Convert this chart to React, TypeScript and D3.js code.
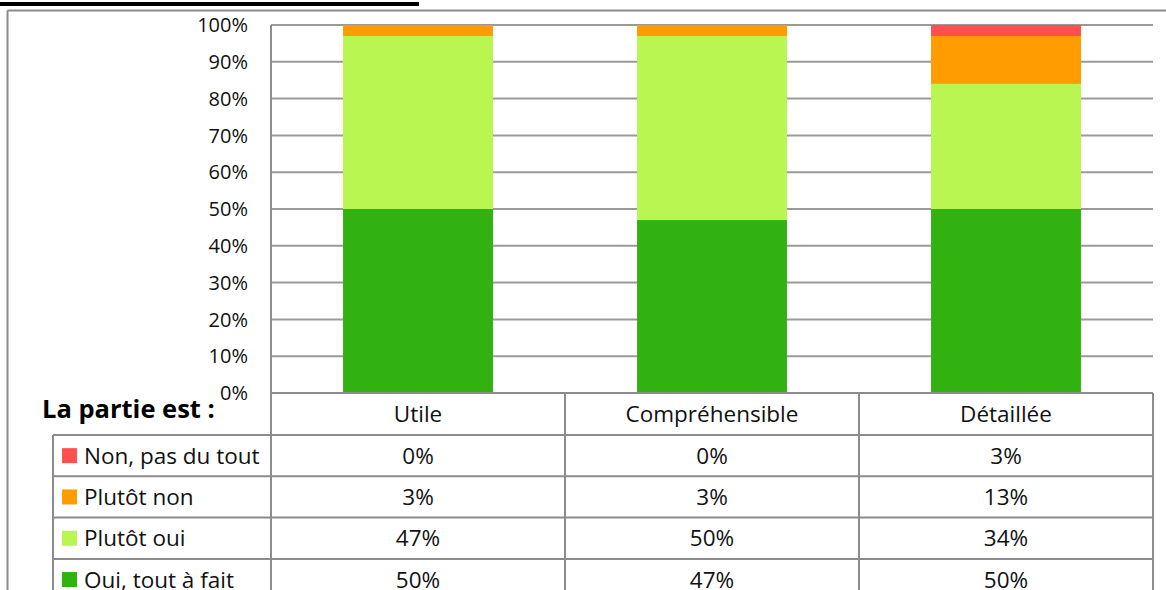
import React from "react";
import * as d3 from "d3";

const categories = ["Utile", "Compréhensible", "Détaillée"];
const seriesNames = ["Non, pas du tout", "Plutôt non", "Plutôt oui", "Oui, tout à fait"];
const seriesColors = ["#FF5050", "#FF9C00", "#BAF652", "#32B211"];
const nonPasDuTout = [0, 0, 3];
const plutotNon = [3, 3, 13];
const plutotOui = [47, 50, 34];
const ouiToutAFait = [50, 47, 50];
const yTicks = [0, 10, 20, 30, 40, 50, 60, 70, 80, 90, 100];
const tableTitle = "La partie est :";

const seriesValues = [nonPasDuTout, plutotNon, plutotOui, ouiToutAFait];

const W = 1166;
const H = 590;
const plotL = 271;
const plotR = 1153;
const plotT = 25;
const plotB = 393;
const headerH = 42;
const rowH = 41.3;
const legendL = 53;
const FONT = "'Open Sans', 'Noto Sans', sans-serif";
const GRID = "#9a9a9a";
const BORDER = "#8c8c8c";

export default function App() {
  const x = d3.scaleBand<string>().domain(categories).range([plotL, plotR]).paddingInner(0.49).paddingOuter(0.245);
  const y = d3.scaleLinear().domain([0, 100]).range([plotB, plotT]);

  const rows = categories.map((c, i) => {
    const r: any = { cat: c };
    seriesNames.forEach((s, j) => (r[s] = seriesValues[j][i]));
    return r;
  });
  // stack bottom-up: Oui, Plutôt oui, Plutôt non, Non
  const stackKeys = [...seriesNames].reverse();
  const stacked = d3.stack<any>().keys(stackKeys)(rows);

  const step = x.step();
  const colEdges = categories.map((c) => (x(c) as number) + x.bandwidth() / 2 - step / 2);
  const tableRowTops = seriesNames.map((_, i) => plotB + headerH + i * rowH);
  const tableBottom = plotB + headerH + seriesNames.length * rowH;

  return (
    <svg width={W} height={H} style={{ position: "absolute", left: 0, top: 0, background: "#fff" }} fontFamily={FONT}>
      <rect x={0} y={0} width={W} height={H} fill="#fff" />
      {/* title underline (text cut off above) */}
      <rect x={0} y={2} width={419} height={4} fill="#000" />
      {/* outer frame */}
      <line x1={7.5} y1={10.5} x2={W} y2={10.5} stroke={BORDER} strokeWidth={2} />
      <line x1={7.5} y1={10.5} x2={7.5} y2={H} stroke={BORDER} strokeWidth={2} />

      {/* gridlines */}
      {yTicks.map((t) => (
        <line key={"g" + t} x1={plotL} x2={plotR} y1={y(t)} y2={y(t)} stroke={GRID} strokeWidth={2} />
      ))}
      {/* y tick labels */}
      {yTicks.map((t) => (
        <text key={"t" + t} x={248} y={y(t)} dy="0.36em" textAnchor="end" fontSize={20} fill="#111">
          {t + "%"}
        </text>
      ))}

      {/* bars */}
      {stacked.map((layer) => {
        const idx = seriesNames.indexOf(layer.key);
        return (
          <g key={layer.key} fill={seriesColors[idx]}>
            {layer.map((d: any) => (
              <rect
                key={d.data.cat}
                x={x(d.data.cat)}
                y={y(d[1])}
                width={x.bandwidth()}
                height={Math.max(0, y(d[0]) - y(d[1]))}
              />
            ))}
          </g>
        );
      })}

      {/* axis line */}
      <line x1={plotL} x2={plotL} y1={plotT} y2={H} stroke={BORDER} strokeWidth={2} />

      {/* table */}
      <text x={42} y={418} fontSize={25.5} fontWeight="bold" fill="#000">
        {tableTitle}
      </text>
      {/* horizontal lines */}
      <line x1={plotL} x2={plotR} y1={plotB} y2={plotB} stroke={BORDER} strokeWidth={2} />
      {tableRowTops.map((ty, i) => (
        <line key={"h" + i} x1={legendL} x2={plotR} y1={ty} y2={ty} stroke={BORDER} strokeWidth={2} />
      ))}
      <line x1={legendL} x2={plotR} y1={tableBottom} y2={tableBottom} stroke={BORDER} strokeWidth={2} />
      {/* vertical lines */}
      <line x1={legendL} x2={legendL} y1={tableRowTops[0]} y2={tableBottom} stroke={BORDER} strokeWidth={2} />
      {colEdges.map((cx, i) => (
        <line key={"v" + i} x1={cx + step} x2={cx + step} y1={plotB} y2={tableBottom} stroke={BORDER} strokeWidth={2} />
      ))}
      {/* header */}
      {categories.map((c) => (
        <text key={"hd" + c} x={(x(c) as number) + x.bandwidth() / 2} y={plotB + headerH / 2} dy="0.36em" textAnchor="middle" fontSize={22.5} fill="#111">
          {c}
        </text>
      ))}
      {/* rows */}
      {seriesNames.map((s, i) => (
        <g key={"r" + s}>
          <rect x={62} y={tableRowTops[i] + rowH / 2 - 7.5} width={15} height={15} fill={seriesColors[i]} />
          <text x={84} y={tableRowTops[i] + rowH / 2} dy="0.36em" fontSize={22.5} fill="#111">
            {s}
          </text>
          {categories.map((c, k) => (
            <text
              key={c}
              x={(x(c) as number) + x.bandwidth() / 2}
              y={tableRowTops[i] + rowH / 2}
              dy="0.36em"
              textAnchor="middle"
              fontSize={22.5}
              fill="#111"
            >
              {seriesValues[i][k] + "%"}
            </text>
          ))}
        </g>
      ))}
    </svg>
  );
}
